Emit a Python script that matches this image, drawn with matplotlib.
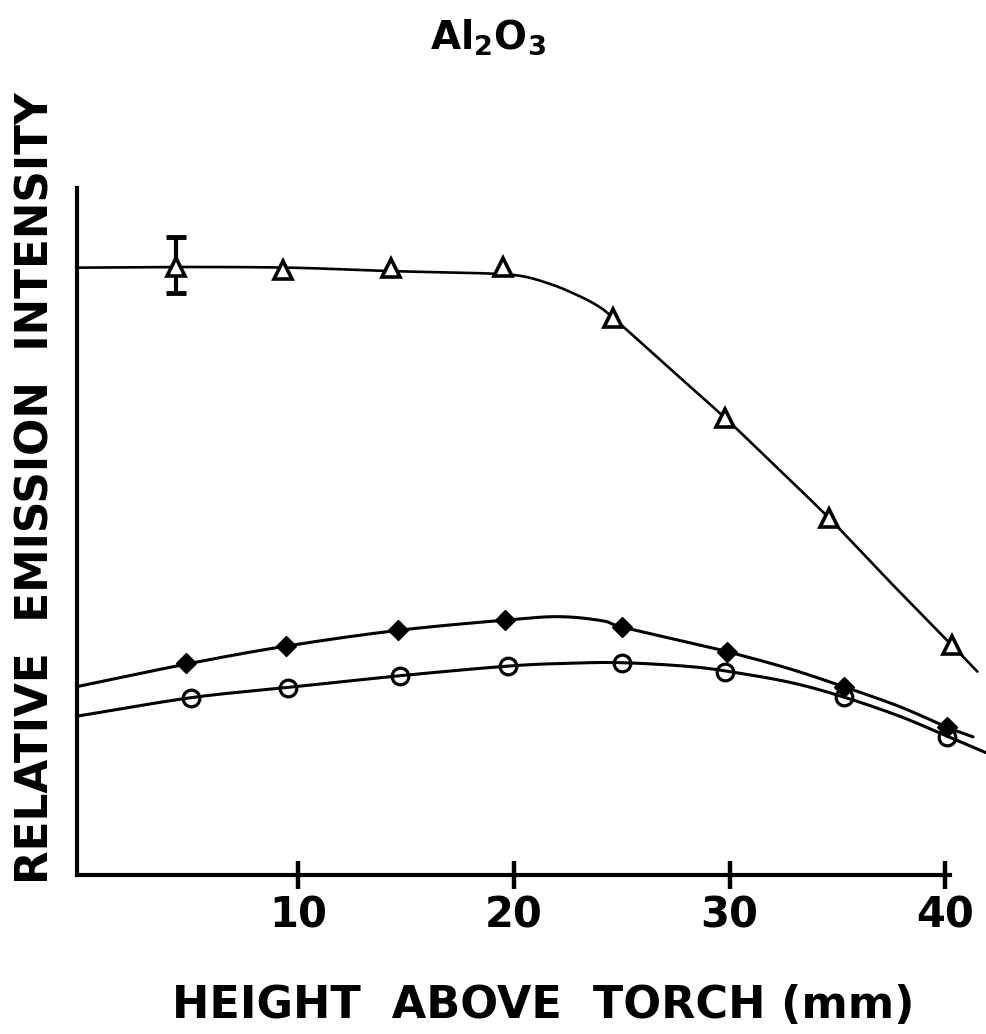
import numpy as np
import matplotlib
matplotlib.use("Agg")
import matplotlib.pyplot as plt

plt.rcParams["font.family"] = ["DejaVu Sans"]
plt.rcParams["mathtext.fontset"] = "dejavusans"

# ---- data (relative emission intensity, arbitrary units) ----
tri_x = [4.3, 9.3, 14.3, 19.5, 24.6, 29.8, 34.6, 40.3]
tri_y = [88.5, 88.1, 88.4, 88.5, 81.1, 66.5, 52.0, 33.5]

# error bar on the first triangle point
err_x = [4.3]
err_y = [88.5]
err_lo = [3.8]
err_hi = [4.4]

dia_x = [4.8, 9.4, 14.6, 19.6, 25.0, 29.9, 35.3, 40.1]
dia_y = [30.8, 33.3, 35.7, 37.1, 36.1, 32.5, 27.4, 21.5]

cir_x = [5.0, 9.5, 14.7, 19.7, 25.0, 29.8, 35.3, 40.1]
cir_y = [25.8, 27.2, 29.0, 30.4, 30.9, 29.5, 25.9, 20.1]

# hand-drawn fitted curves
tri_fit_x = [-0.3, 4.3, 9.6, 14.3, 18.4, 20.3, 21.7, 22.8, 23.8, 24.6, 27.2, 29.8, 32.2, 34.6, 37.4, 40.3, 41.5]
tri_fit_y = [88.4, 88.5, 88.4, 87.9, 87.6, 87.2, 86.0, 84.6, 83.0, 81.1, 73.8, 66.5, 59.3, 52.0, 42.8, 33.5, 29.6]

dia_fit_x = [-0.3, 4.8, 9.4, 14.6, 19.6, 22.1, 24.1, 25.0, 28.3, 29.9, 32.8, 35.3, 37.9, 40.1, 41.3]
dia_fit_y = [27.4, 30.7, 33.3, 35.6, 37.1, 37.6, 37.0, 36.1, 33.7, 32.5, 30.0, 27.4, 24.5, 21.5, 20.1]

cir_fit_x = [-0.3, 5.0, 9.5, 14.7, 19.7, 22.4, 25.0, 28.3, 30.6, 33.0, 35.3, 37.9, 40.1, 41.9]
cir_fit_y = [23.1, 25.8, 27.3, 29.0, 30.4, 30.8, 30.9, 30.3, 29.3, 27.9, 25.9, 23.1, 20.2, 17.8]

x_ticks = [10, 20, 30, 40]
x_tick_labels = ["10", "20", "30", "40"]


def smooth(xs, ys, n=24):
    p = np.column_stack([xs, ys]).astype(float)
    p = np.vstack([2 * p[0] - p[1], p, 2 * p[-1] - p[-2]])
    out = []
    t = np.linspace(0, 1, n, endpoint=False)[:, None]
    for i in range(1, len(p) - 2):
        p0, p1, p2, p3 = p[i - 1], p[i], p[i + 1], p[i + 2]
        seg = 0.5 * ((2 * p1) + (-p0 + p2) * t + (2 * p0 - 5 * p1 + 4 * p2 - p3) * t ** 2
                     + (-p0 + 3 * p1 - 3 * p2 + p3) * t ** 3)
        out.append(seg)
    out.append(p[-2][None, :])
    s = np.vstack(out)
    return s[:, 0], s[:, 1]


fig = plt.figure(figsize=(9.86, 10.34), dpi=100)
L = 76.5 / 986
ax = fig.add_axes([L, 0.1538, 1 - L, 0.6644])
ax.set_xlim(-0.3, 41.9)
ax.set_ylim(0, 100)

for (fx, fy), lw in [((tri_fit_x, tri_fit_y), 1.9), ((dia_fit_x, dia_fit_y), 2.2),
                     ((cir_fit_x, cir_fit_y), 2.2)]:
    sx, sy = smooth(fx, fy)
    ax.plot(sx, sy, color="black", lw=lw, solid_capstyle="round", clip_on=False, zorder=2)

ax.errorbar(err_x, err_y, yerr=[err_lo, err_hi], fmt="none", ecolor="black",
            elinewidth=3, capsize=7, capthick=3.5, zorder=3)
ax.plot(tri_x, tri_y, linestyle="none", marker="^", ms=13, mfc="white", mec="black",
        mew=2.6, zorder=4, clip_on=False)
ax.plot(dia_x, dia_y, linestyle="none", marker="D", ms=10.5, mfc="black", mec="black",
        mew=1, zorder=4, clip_on=False)
ax.plot(cir_x, cir_y, linestyle="none", marker="o", ms=12, mfc="none", mec="black",
        mew=2.3, zorder=4, clip_on=False)

for s in ["top", "right"]:
    ax.spines[s].set_visible(False)
ax.spines["left"].set_linewidth(3)
ax.spines["bottom"].set_linewidth(3)
ax.spines["bottom"].set_bounds(-0.3, 40.25)

ax.set_xticks(x_ticks)
ax.set_xticklabels(x_tick_labels, fontsize=30, fontweight="bold")
ax.tick_params(axis="x", direction="inout", length=20, width=3.2, pad=4)
ax.set_yticks([])

fig.text(0.551, 0.028, "HEIGHT  ABOVE  TORCH (mm)", fontsize=32, fontweight="bold",
         ha="center", va="center")
fig.text(0.0365, 0.528, "RELATIVE  EMISSION  INTENSITY", fontsize=31.5, fontweight="bold",
         ha="center", va="center", rotation=90)
fig.text(0.495, 0.964, r"Al$_\mathbf{2}$O$_\mathbf{3}$", fontsize=28, fontweight="bold",
         ha="center", va="center")

fig.savefig("out.png", dpi=100)
